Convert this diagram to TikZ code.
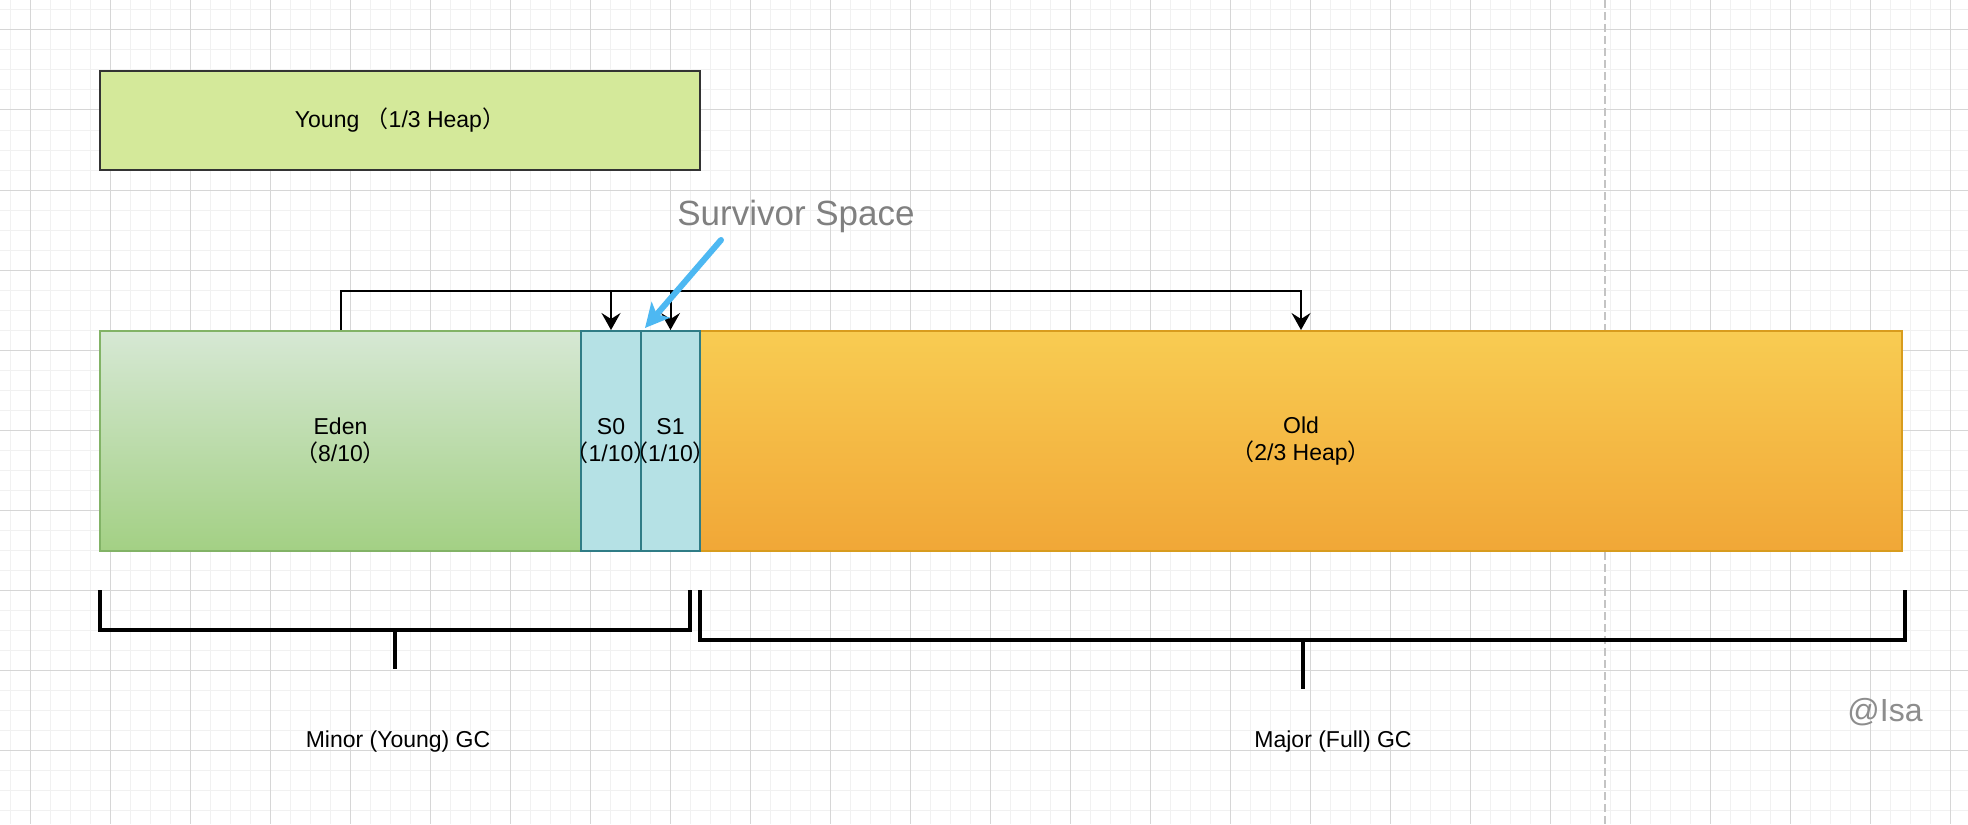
\documentclass[tikz,border=0pt]{standalone}
\usepackage{fontspec}
\setmainfont{Liberation Sans}
\newfontfamily\cjk{Noto Sans CJK SC}
\usetikzlibrary{arrows.meta,calc}
\definecolor{gridminorc}{HTML}{F1F1F1}
\definecolor{gridmajorc}{HTML}{D6D6D6}
\definecolor{youngfill}{HTML}{D4E99A}
\definecolor{youngdraw}{HTML}{333333}
\definecolor{edentop}{HTML}{D6E8D4}
\definecolor{edenbot}{HTML}{A3D084}
\definecolor{edendraw}{HTML}{82B366}
\definecolor{survfill}{HTML}{B5E1E5}
\definecolor{survdraw}{HTML}{2F7C86}
\definecolor{oldtop}{HTML}{F8CC52}
\definecolor{oldbot}{HTML}{F1A737}
\definecolor{olddraw}{HTML}{D89C1E}
\definecolor{calloutc}{HTML}{4DB8F2}
\definecolor{graytext}{HTML}{808080}
\definecolor{pagec}{HTML}{C4C4C4}
\newcommand\fwl{{\cjk （}}
\newcommand\fwr{{\cjk ）}}
\begin{document}
\begin{tikzpicture}[x=0.5pt,y=-0.5pt,
  gridminor/.style={draw=gridminorc,line width=0.5pt},
  gridmajor/.style={draw=gridmajorc,line width=0.5pt},
  pagebreak/.style={draw=pagec,line width=1pt,dash pattern=on 4pt off 2pt},
  lbl/.style={font=\fontsize{11.5}{13.5}\selectfont,align=center,text=black},
  box/.style={draw,rectangle,inner sep=0pt,line width=1pt,minimum height=110pt},
  conn/.style={draw=black,line width=1pt,-{Stealth[length=8.5pt,width=9.5pt,inset=3pt]}},
  bracket/.style={draw=black,line width=2pt,line join=miter},
  callout/.style={draw=calloutc,line width=3pt,line cap=round,-{Stealth[length=12pt,width=12pt,inset=3pt]}},
  bigtext/.style={text=graytext,inner sep=0pt}
]
\useasboundingbox (0,0) rectangle (1968,824);
\fill[white] (0,0) rectangle (1968,824);
% grid
\foreach \x in {10,30,...,1970} \draw[gridminor] (\x,0) -- (\x,824);
\foreach \y in {10,30,...,830} \draw[gridminor] (0,\y) -- (1968,\y);
\foreach \x in {30,110,...,1970} \draw[gridmajor] (\x,0) -- (\x,824);
\foreach \y in {30,110,...,830} \draw[gridmajor] (0,\y) -- (1968,\y);
% page break line
\draw[pagebreak] (1605,0) -- (1605,824);

% boxes
\node[box,draw=youngdraw,fill=youngfill,minimum width=300pt,minimum height=49.5pt,lbl] (young) at (400,120.5) {Young \fwl1/3 Heap\fwr};
\node[box,draw=edendraw,top color=edentop,bottom color=edenbot,minimum width=240.5pt,
  label={[lbl]center:Eden\\\fwl8/10\fwr}] (eden) at (340.5,441) {};
\node[box,draw=olddraw,top color=oldtop,bottom color=oldbot,minimum width=601pt,
  label={[lbl]center:Old\\\fwl2/3 Heap\fwr}] (old) at (1301,441) {};
\node[box,draw=survdraw,fill=survfill,minimum width=30pt,
  label={[lbl]center:S0\\\fwl1/10\fwr}] (s0) at (611,441) {};
\node[box,draw=survdraw,fill=survfill,minimum width=29.5pt,
  label={[lbl]center:S1\\\fwl1/10\fwr}] (s1) at (670.5,441) {};

% connectors
\coordinate (bus) at (0,291);
\draw[conn] (eden.north) |- (bus -| old.north) -- (old.north);
\draw[conn] (bus -| s0.north) -- (s0.north);
\draw[conn] (bus -| s1.north) -- (s1.north);

% survivor callout
\node[bigtext,font=\fontsize{17.5}{21}\selectfont] (surv) at (796,216) {Survivor Space};
\coordinate (callstart) at (721,240);
\coordinate (calltip) at (645,328);
\draw[callout] (callstart) -- (calltip);

% brackets
\coordinate (mnA) at (100,590);
\coordinate (mnB) at (100,630);
\coordinate (mnC) at (690,630);
\coordinate (mnD) at (690,590);
\coordinate (mnT) at (395,630);
\coordinate (mnE) at (395,669);
\draw[bracket] (mnA) -- (mnB) -- (mnC) -- (mnD);
\draw[bracket] (mnT) -- (mnE);
\coordinate (mjA) at (700,590);
\coordinate (mjB) at (700,640);
\coordinate (mjC) at (1905,640);
\coordinate (mjD) at (1905,590);
\coordinate (mjT) at (1303,640);
\coordinate (mjE) at (1303,689);
\draw[bracket] (mjA) -- (mjB) -- (mjC) -- (mjD);
\draw[bracket] (mjT) -- (mjE);

\node[lbl] (minor) at (398,742) {Minor (Young) GC};
\node[lbl] (major) at (1333,742) {Major (Full) GC};

\node[bigtext,text=graytext!90!white,font=\fontsize{16}{19}\selectfont] (author) at (1885,712) {@Isa};
\end{tikzpicture}
\end{document}
